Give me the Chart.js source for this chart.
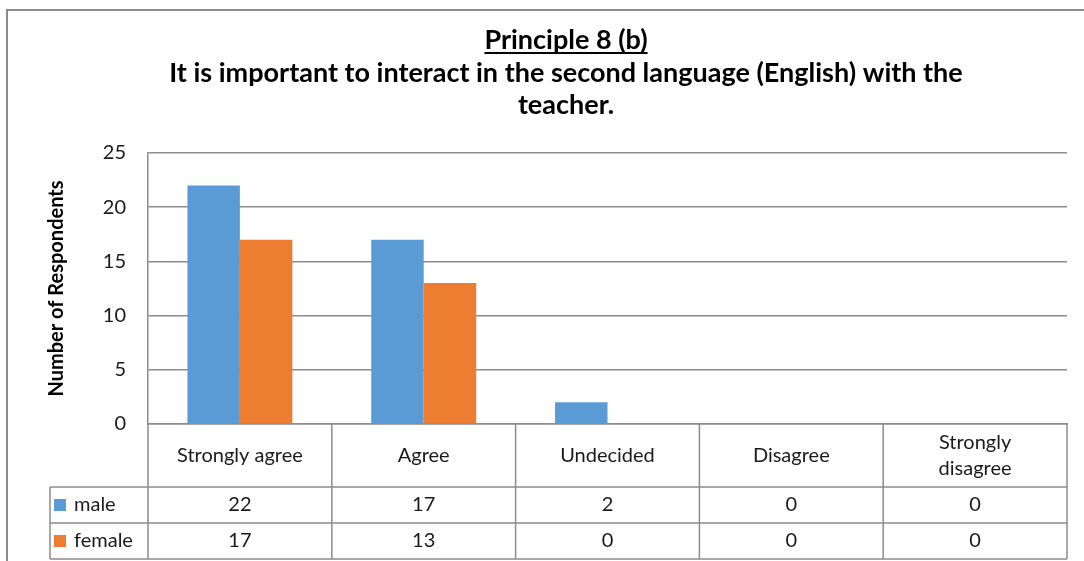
<!DOCTYPE html>
<html>
<head>
<meta charset="utf-8">
<script src="https://cdn.jsdelivr.net/npm/chart.js@4.4.0/dist/chart.umd.min.js"></script>
<style>
  body { margin: 0; background: #fff; }
  #wrap { width: 1084px; height: 561px; position: relative; }
</style>
</head>
<body>
<div id="wrap"><canvas id="chart"></canvas></div>
<script>
const categories = ['Strongly agree', 'Agree', 'Undecided', 'Disagree', ['Strongly', 'disagree']];
const maleCounts = [22, 17, 2, 0, 0];
const femaleCounts = [17, 13, 0, 0, 0];
const seriesNames = ['male', 'female'];
const yTicks = [0, 5, 10, 15, 20, 25];
const titleLines = ['Principle 8 (b)', 'It is important to interact in the second language (English) with the', 'teacher.'];

const blue = '#5b9bd5';
const orange = '#ed7d31';
const gridColor = '#8c8c8c';
const textColor = '#1a1a1a';
const fontFamily = 'Lato, "Open Sans", sans-serif';

// frame, title and the data table under the plot
const frameAndTable = {
    id: 'frameAndTable',
    beforeDraw(chart) {
        const ctx = chart.ctx;
        ctx.save();
        ctx.fillStyle = '#fff';
        ctx.fillRect(0, 0, chart.width, chart.height);
        ctx.strokeStyle = '#8a8a8a';
        ctx.lineWidth = 2;
        ctx.strokeRect(7, 10, chart.width + 20, chart.height + 20);
        ctx.restore();
    },
    afterDraw(chart) {
        const ctx = chart.ctx;
        const xs = chart.scales.x;
        const area = chart.chartArea;
        const n = categories.length;
        const colW = (xs.right - xs.left) / n;
        const headBottom = area.bottom + 63;
        const rowH = 36;
        const legendLeft = 50;
        const tableBottom = headBottom + rowH * 2;

        ctx.save();
        ctx.strokeStyle = gridColor;
        ctx.lineWidth = 1.5;
        ctx.beginPath();
        for (let i = 0; i <= n; i++) {
            const x = xs.left + i * colW;
            ctx.moveTo(x, area.bottom);
            ctx.lineTo(x, tableBottom);
        }
        ctx.moveTo(legendLeft, headBottom);
        ctx.lineTo(legendLeft, tableBottom);
        for (let r = 0; r <= 2; r++) {
            const y = headBottom + r * rowH;
            ctx.moveTo(legendLeft, y);
            ctx.lineTo(xs.right, y);
        }
        ctx.stroke();

        ctx.font = '20px ' + fontFamily;
        ctx.textBaseline = 'middle';
        chart.data.datasets.forEach((ds, r) => {
            const cy = headBottom + r * rowH + rowH / 2;
            ctx.fillStyle = ds.backgroundColor;
            ctx.fillRect(legendLeft + 4, cy - 6, 12, 12);
            ctx.fillStyle = textColor;
            ctx.textAlign = 'left';
            ctx.fillText(ds.label, legendLeft + 24, cy);
            ctx.textAlign = 'center';
            ds.data.forEach((v, i) => {
                ctx.fillText(String(v), xs.getPixelForValue(i), cy);
            });
        });

        // title
        const cx = 566;
        ctx.fillStyle = '#000';
        ctx.textAlign = 'center';
        ctx.textBaseline = 'alphabetic';
        ctx.font = 'bold 27px ' + fontFamily;
        const baselines = [49, 82, 114];
        titleLines.forEach((line, i) => ctx.fillText(line, cx, baselines[i]));
        const w0 = ctx.measureText(titleLines[0]).width;
        ctx.fillRect(cx - w0 / 2, baselines[0] + 3, w0, 2);
        ctx.restore();
    }
};

new Chart(document.getElementById('chart').getContext('2d'), {
    type: 'bar',
    data: {
        labels: categories,
        datasets: [{
            label: seriesNames[0],
            data: maleCounts,
            backgroundColor: blue
        }, {
            label: seriesNames[1],
            data: femaleCounts,
            backgroundColor: orange
        }]
    },
    options: {
        responsive: true,
        maintainAspectRatio: false,
        animation: false,
        layout: {
            padding: { left: 0, top: 153, right: 17, bottom: 0 }
        },
        datasets: {
            bar: {
                categoryPercentage: 0.571,
                barPercentage: 1.0
            }
        },
        plugins: {
            legend: { display: false },
            tooltip: { enabled: false },
            title: { display: false }
        },
        scales: {
            y: {
                min: 0,
                max: 25,
                afterBuildTicks: (scale) => {
                    scale.ticks = yTicks.map(v => ({ value: v }));
                },
                afterFit: (scale) => { scale.width = 148; },
                grid: {
                    color: gridColor,
                    lineWidth: 1.5,
                    drawTicks: false
                },
                border: { display: true, color: gridColor, width: 1.5 },
                ticks: {
                    padding: 22,
                    color: textColor,
                    font: { family: fontFamily, size: 20 }
                },
                title: {
                    display: true,
                    text: 'Number of Respondents',
                    color: '#000',
                    padding: { top: 45, bottom: 0 },
                    font: { family: fontFamily, size: 20, weight: 'bold' }
                }
            },
            x: {
                afterFit: (scale) => { scale.height = 137; },
                grid: { display: false },
                border: { display: true, color: gridColor, width: 1.5 },
                ticks: {
                    padding: 11,
                    maxRotation: 0,
                    minRotation: 0,
                    autoSkip: false,
                    crossAlign: 'center',
                    color: textColor,
                    font: { family: fontFamily, size: 20, lineHeight: 1.3 }
                }
            }
        }
    },
    plugins: [frameAndTable]
});
</script>
</body>
</html>
